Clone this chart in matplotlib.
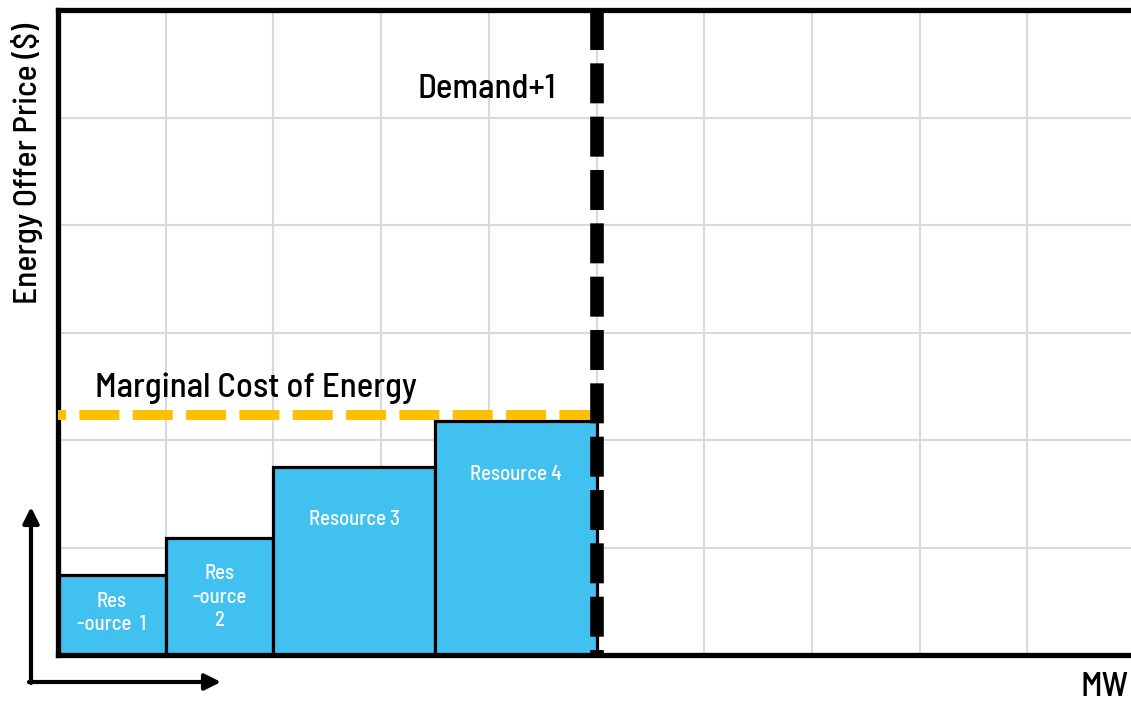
import matplotlib
matplotlib.use("Agg")
import matplotlib.pyplot as plt
from matplotlib import font_manager

# ── データ ──────────────────────────────────────────────
BAR_LEFT   = [0.0, 1.0, 2.0, 3.5]
BAR_WIDTH  = [1.0, 1.0, 1.5, 1.5]
BAR_PRICE  = [0.74, 1.09, 1.75, 2.18]
BAR_LABELS = ["Res\n-ource  1", "Res\n-ource\n2", "Resource 3", "Resource 4"]
LABEL_Y    = [0.39, 0.535, 1.26, 1.68]

MARGINAL_COST = 2.23
DEMAND_MW     = 5.0
X_MAX, Y_MAX  = 10, 6

# 細めのフォントがあれば使う
available = {f.name for f in font_manager.fontManager.ttflist}
prefer = ["Bahnschrift", "Barlow Semi Condensed", "Roboto Condensed",
          "Liberation Sans Narrow", "Open Sans Condensed", "Roboto"]
family = next((f for f in prefer if f in available), "DejaVu Sans")
plt.rcParams["font.family"] = [family, "DejaVu Sans"]
plt.rcParams["lines.scale_dashes"] = False

W, H = 1131, 702
fig = plt.figure(figsize=(W / 100, H / 100), dpi=100)
ax = fig.add_axes([58 / W, (H - 655) / H, 1077 / W, 645 / H])
ax.set_xlim(0, X_MAX)
ax.set_ylim(0, Y_MAX)

ax.set_xticks(range(X_MAX + 1))
ax.set_yticks(range(Y_MAX + 1))
ax.tick_params(length=0, labelbottom=False, labelleft=False)
ax.grid(True, color="#d9d9d9", lw=1.5, zorder=0)
ax.set_axisbelow(True)
for side in ["left", "top", "bottom"]:
    ax.spines[side].set_linewidth(3.8)
ax.spines["right"].set_visible(False)

# 供給曲線の階段
ax.bar(BAR_LEFT, BAR_PRICE, width=BAR_WIDTH, align="edge",
       color="#41c1f0", edgecolor="black", linewidth=2.3, zorder=2)
for x0, w, ly, lab in zip(BAR_LEFT, BAR_WIDTH, LABEL_Y, BAR_LABELS):
    ax.text(x0 + w / 2, ly, lab, ha="center", va="center", color="white",
            fontsize=15, fontweight="medium", linespacing=1.3, zorder=5)

# 限界費用ライン
ax.plot([0, DEMAND_MW], [MARGINAL_COST, MARGINAL_COST], color="#ffc000",
        lw=7.2, ls=(23, (28.8, 9.6)), solid_capstyle="butt", zorder=3)
ax.text(1.84, 2.48, "Marginal Cost of Energy", ha="center", va="center",
        fontsize=25, fontweight="medium", color="black", zorder=5)

# 需要ライン
ax.plot([DEMAND_MW, DEMAND_MW], [Y_MAX, 0], color="black", lw=9.8,
        ls=(0, (28.8, 9.6)), clip_on=False, zorder=4)
ax.text(3.98, 5.26, "Demand+1", ha="center", va="center",
        fontsize=25, fontweight="medium", color="black", zorder=5)

# 軸ラベル
fig.text(27 / W, 1 - 163 / H, "Energy Offer Price ($)", rotation=90,
         ha="center", va="center", fontsize=24, fontweight="medium")
fig.text(1129 / W, 1 - 688 / H, "MW", ha="right", va="center",
         fontsize=25, fontweight="medium")

# 左下の矢印
arrow = dict(arrowstyle="-|>", lw=3, color="black", mutation_scale=24,
             shrinkA=0, shrinkB=0)
ax.annotate("", xy=(31, H - 507), xytext=(31, H - 683),
            xycoords="figure pixels", textcoords="figure pixels",
            arrowprops=arrow, annotation_clip=False)
ax.annotate("", xy=(221, H - 682), xytext=(29, H - 682),
            xycoords="figure pixels", textcoords="figure pixels",
            arrowprops=arrow, annotation_clip=False)

fig.savefig("out.png", dpi=100)
